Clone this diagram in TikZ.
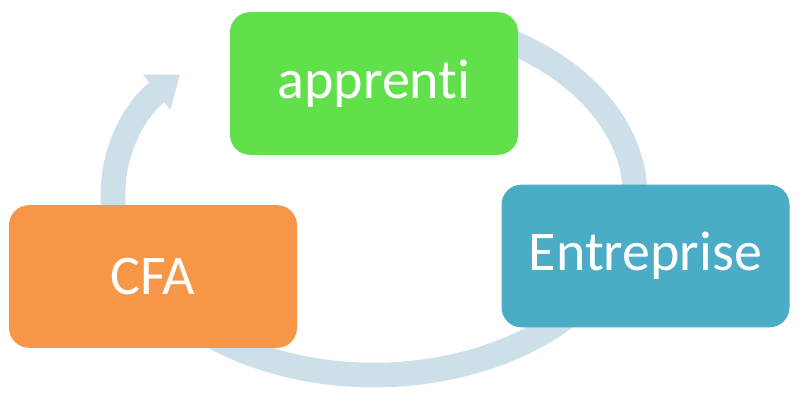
\documentclass[tikz,border=0pt]{standalone}
\usepackage{fontspec}
\setmainfont[Ligatures={NoCommon}]{Carlito}
\usetikzlibrary{arrows.meta}

\definecolor{vertApp}{RGB}{98,224,76}
\definecolor{orangeCfa}{RGB}{247,150,70}
\definecolor{bleuEnt}{RGB}{75,172,198}
\definecolor{bleuCycle}{RGB}{205,223,233}

\begin{document}
\begin{tikzpicture}[x=0.75pt, y=-0.75pt,
  bloc/.style={rounded corners=15pt, minimum width=216pt, minimum height=107pt, text=white, font=\fontsize{42}{48}\selectfont}]

\useasboundingbox (0,0) rectangle (800,404);

%ring behind the boxes
\coordinate (centre) at (374,195);
\draw[line width=18.5pt, bleuCycle, -{Triangle[width=32pt,length=22pt]}] (centre) ++(294:261 and 180) arc (294:582:261 and 180);

\node[bloc, fill=vertApp] (apprenti) at (374,83.5) {apprenti};
\node[bloc, fill=bleuEnt] (entreprise) at (645.5,256) {Entreprise};
\node[bloc, fill=orangeCfa] (cfa) at (153,276.5) {CFA};

\end{tikzpicture}
\end{document}
